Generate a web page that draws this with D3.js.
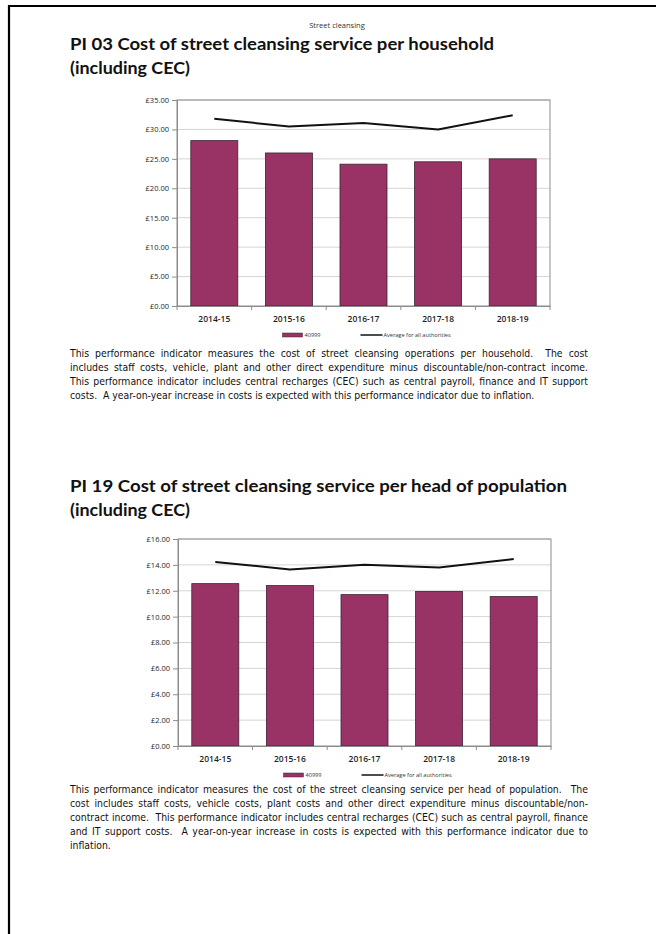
<!DOCTYPE html>
<html>
<head>
<meta charset="utf-8">
<script src="https://cdn.jsdelivr.net/npm/d3@7"></script>
<style>
  body { margin: 0; background: #fff; }
  svg text { font-family: "Open Sans", sans-serif; }
</style>
</head>
<body>
<svg id="page" width="656" height="934"></svg>
<script>
// data
const years = ['2014-15', '2015-16', '2016-17', '2017-18', '2018-19'];
const householdCost = [28.1, 26.0, 24.1, 24.5, 25.0];
const householdAvg = [31.8, 30.5, 31.1, 30.0, 32.4];
const householdTicks = [0, 5, 10, 15, 20, 25, 30, 35];
const populationCost = [12.55, 12.4, 11.7, 11.95, 11.55];
const populationAvg = [14.23, 13.65, 14.0, 13.8, 14.45];
const populationTicks = [0, 2, 4, 6, 8, 10, 12, 14, 16];
const seriesName = '40999';
const avgName = 'Average for all authorities';

const headerText = 'Street cleansing';
const title1 = ['PI 03 Cost of street cleansing service per household', '(including CEC)'];
const title2 = ['PI 19 Cost of street cleansing service per head of population', '(including CEC)'];
const para1 = [
  'This performance indicator measures the cost of street cleansing operations per household.  The cost',
  'includes staff costs, vehicle, plant and other direct expenditure minus discountable/non-contract income.',
  'This performance indicator includes central recharges (CEC) such as central payroll, finance and IT support',
  'costs.  A year-on-year increase in costs is expected with this performance indicator due to inflation.'
];
const para2 = [
  'This performance indicator measures the cost of the street cleansing service per head of population.  The',
  'cost includes staff costs, vehicle costs, plant costs and other direct expenditure minus discountable/non-',
  'contract income.  This performance indicator includes central recharges (CEC) such as central payroll, finance',
  'and IT support costs.  A year-on-year increase in costs is expected with this performance indicator due to',
  'inflation.'
];

const bodyFont = '"DejaVu Sans Condensed", "DejaVu Sans", sans-serif';

const svg = d3.select('#page');
svg.append('rect').attr('width', 656).attr('height', 934).attr('fill', '#fff');

// page edge of the scanned sheet
svg.append('path')
    .attr('d', 'M9,934V6H656')
    .attr('fill', 'none')
    .attr('stroke', '#000')
    .attr('stroke-width', 2.2);

svg.append('text')
    .attr('x', 337).attr('y', 28)
    .attr('text-anchor', 'middle')
    .style('font-size', '7.5px')
    .attr('fill', '#333')
    .text(headerText);

function addTitle(lines, y0) {
  lines.forEach((t, i) => {
    const target = i === 0 ? (t.length > 55 ? 497 : 424) : 120;
    svg.append('text')
        .attr('x', 70).attr('y', y0 + i * 24)
        .style('font-family', 'Lato, sans-serif')
        .style('font-weight', 'bold')
        .style('font-size', '17.5px')
        .attr('fill', '#111')
        .attr('textLength', target)
        .attr('lengthAdjust', 'spacingAndGlyphs')
        .text(t);
  });
}

// body size: widest line must still fit in the 518px column with a little word gap
const probe = svg.append('text')
    .style('font-family', bodyFont)
    .style('font-size', '10px')
    .style('white-space', 'pre');
let bodySize = 20;
para1.concat(para2).forEach(t => {
  probe.text(t);
  bodySize = Math.min(bodySize, 10 * 514 / probe.node().getComputedTextLength());
});
probe.remove();

function addParagraph(lines, y0) {
  lines.forEach((t, i) => {
    const txt = svg.append('text')
        .attr('x', 70).attr('y', y0 + i * 14)
        .style('font-family', bodyFont)
        .style('font-size', bodySize + 'px')
        .style('white-space', 'pre')
        .attr('fill', '#111')
        .text(t);
    if (i < lines.length - 1) {
      const natural = txt.node().getComputedTextLength();
      const spaces = (t.match(/ /g) || []).length;
      txt.style('word-spacing', ((518 - natural) / spaces) + 'px');
    }
  });
}

function drawChart(cfg) {
  const g = svg.append('g');
  const x = d3.scaleBand()
      .domain(years)
      .range([cfg.left, cfg.right])
      .paddingInner(0.37)
      .paddingOuter(0.185);
  const y = d3.scaleLinear()
      .domain([0, d3.max(cfg.ticks)])
      .range([cfg.bottom, cfg.top]);

  // gridlines
  g.append('g').selectAll('line')
    .data(cfg.ticks.slice(1))
    .join('line')
      .attr('x1', cfg.left).attr('x2', cfg.right)
      .attr('y1', d => y(d)).attr('y2', d => y(d))
      .attr('stroke', '#d4d4d4')
      .attr('stroke-width', 1);

  g.append('rect')
      .attr('x', cfg.left).attr('y', cfg.top)
      .attr('width', cfg.right - cfg.left)
      .attr('height', cfg.bottom - cfg.top)
      .attr('fill', 'none')
      .attr('stroke', '#8c8c8c');

  g.append('g').selectAll('rect')
    .data(cfg.values)
    .join('rect')
      .attr('x', (d, i) => x(years[i]))
      .attr('y', d => y(d))
      .attr('width', x.bandwidth())
      .attr('height', d => y(0) - y(d))
      .attr('fill', '#993366')
      .attr('stroke', '#3a2430')
      .attr('stroke-width', 0.8);

  const line = d3.line()
      .x((d, i) => x(years[i]) + x.bandwidth() / 2)
      .y(d => y(d));
  g.append('path')
      .datum(cfg.avg)
      .attr('d', line)
      .attr('fill', 'none')
      .attr('stroke', '#111')
      .attr('stroke-width', 2);

  const yAxis = g.append('g')
      .attr('transform', `translate(${cfg.left},0)`)
      .call(d3.axisLeft(y).tickValues(cfg.ticks).tickSize(5).tickPadding(3)
        .tickFormat(d => '£' + d.toFixed(2)));
  yAxis.select('.domain').attr('stroke', '#8c8c8c');
  yAxis.selectAll('.tick line').attr('stroke', '#8c8c8c');
  yAxis.selectAll('text')
      .style('font-size', '7.5px')
      .attr('fill', '#1e1e1e');

  const xAxis = g.append('g')
      .attr('transform', `translate(0,${cfg.bottom})`)
      .call(d3.axisBottom(x).tickSize(0).tickPadding(10));
  xAxis.select('.domain').attr('stroke', '#8c8c8c');
  xAxis.selectAll('text')
      .style('font-size', '8.5px')
      .style('font-weight', '600')
      .attr('fill', '#1e1e1e');

  // category boundary ticks
  const bounds = years.slice(1).map(d => x(d) - x.step() * x.paddingInner() / 2);
  g.append('g').selectAll('line')
    .data([cfg.left].concat(bounds, [cfg.right]))
    .join('line')
      .attr('x1', d => d).attr('x2', d => d)
      .attr('y1', cfg.bottom).attr('y2', cfg.bottom + 4)
      .attr('stroke', '#8c8c8c');

  // legend
  const mid = (cfg.left + cfg.right) / 2;
  const ly = cfg.bottom + 29;
  const leg = g.append('g');
  leg.append('rect')
      .attr('x', mid - 81).attr('y', ly - 2)
      .attr('width', 20).attr('height', 4)
      .attr('fill', '#993366')
      .attr('stroke', '#3a2430')
      .attr('stroke-width', 0.5);
  leg.append('text')
      .attr('x', mid - 59).attr('y', ly + 2)
      .style('font-size', '5.6px')
      .attr('fill', '#333')
      .text(seriesName);
  leg.append('line')
      .attr('x1', mid - 3).attr('x2', mid + 19)
      .attr('y1', ly).attr('y2', ly)
      .attr('stroke', '#111')
      .attr('stroke-width', 1.5);
  leg.append('text')
      .attr('x', mid + 20).attr('y', ly + 2)
      .style('font-size', '5.6px')
      .attr('fill', '#333')
      .text(avgName);
}

addTitle(title1, 50);
drawChart({
  left: 177, right: 550, top: 100, bottom: 306,
  values: householdCost, avg: householdAvg, ticks: householdTicks
});
addParagraph(para1, 357);

addTitle(title2, 492);
drawChart({
  left: 178, right: 551, top: 539, bottom: 746,
  values: populationCost, avg: populationAvg, ticks: populationTicks
});
addParagraph(para2, 793);
</script>
</body>
</html>
